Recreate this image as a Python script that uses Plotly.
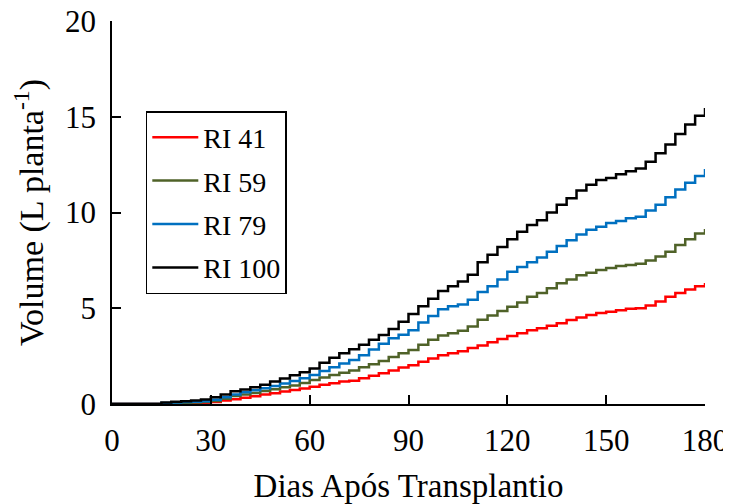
import plotly.graph_objects as go

# Days after transplanting (sampled every 3 days)
dias = list(range(0, 181, 3))

# Cumulative volume (L planta-1)
ri_41 = [0, 0, 0, 0, 0, 0.02, 0.03, 0.04, 0.05, 0.07, 0.10, 0.18, 0.25, 0.32, 0.40, 0.50,
         0.56, 0.65, 0.73, 0.81, 0.90, 1.00, 1.08, 1.17, 1.22, 1.35, 1.48, 1.60, 1.75, 1.90,
         2.02, 2.20, 2.38, 2.54, 2.65, 2.75, 2.92, 3.05, 3.22, 3.40, 3.55, 3.70, 3.85, 3.95,
         4.08, 4.22, 4.38, 4.52, 4.65, 4.75, 4.82, 4.90, 4.98, 5.00, 5.15, 5.35, 5.60, 5.80,
         5.98, 6.15, 6.32]
ri_59 = [0, 0, 0, 0, 0, 0.03, 0.05, 0.06, 0.08, 0.10, 0.16, 0.28, 0.42, 0.50, 0.58, 0.68,
         0.77, 0.87, 0.97, 1.10, 1.25, 1.39, 1.52, 1.63, 1.75, 1.92, 2.08, 2.25, 2.45, 2.65,
         2.82, 3.10, 3.35, 3.58, 3.70, 3.82, 4.05, 4.40, 4.62, 4.85, 5.08, 5.30, 5.60, 5.80,
         6.04, 6.30, 6.50, 6.72, 6.85, 7.00, 7.10, 7.20, 7.26, 7.32, 7.50, 7.70, 7.95, 8.30,
         8.60, 8.90, 9.14]
ri_79 = [0, 0, 0, 0, 0, 0.05, 0.08, 0.10, 0.12, 0.15, 0.22, 0.35, 0.50, 0.62, 0.72, 0.82,
         0.94, 1.07, 1.20, 1.35, 1.51, 1.72, 1.92, 2.12, 2.30, 2.55, 2.85, 3.15, 3.43, 3.62,
         3.85, 4.25, 4.60, 4.95, 5.10, 5.20, 5.45, 5.85, 6.15, 6.50, 6.90, 7.15, 7.40, 7.65,
         7.95, 8.25, 8.55, 8.85, 9.10, 9.26, 9.45, 9.55, 9.70, 9.78, 10.10, 10.40, 10.80, 11.20,
         11.55, 11.90, 12.27]
ri_100 = [0, 0, 0, 0, 0, 0.08, 0.12, 0.15, 0.18, 0.24, 0.35, 0.50, 0.66, 0.76, 0.87, 1.00,
          1.17, 1.33, 1.50, 1.66, 1.86, 2.15, 2.42, 2.65, 2.86, 3.10, 3.35, 3.60, 3.92, 4.30,
          4.70, 5.10, 5.50, 5.90, 6.15, 6.40, 6.75, 7.40, 7.80, 8.20, 8.60, 9.00, 9.35, 9.60,
          10.00, 10.40, 10.75, 11.15, 11.45, 11.70, 11.80, 12.00, 12.15, 12.30, 12.65, 13.10, 13.55, 14.10,
          14.60, 15.05, 15.46]

series = [
    ("RI 41", ri_41, "#FF0000"),
    ("RI 59", ri_59, "#4F6228"),
    ("RI 79", ri_79, "#0070C0"),
    ("RI 100", ri_100, "#000000"),
]

fig = go.Figure()
for nome, vals, cor in series:
    fig.add_trace(go.Scatter(x=dias, y=vals, mode="lines", name=nome, legendgroup=nome,
                             line=dict(color=cor, width=2.5, shape="hv")))

serif = "Liberation Serif, Times New Roman, serif"

# page body adds an 8px margin, so the figure is a bit smaller than the window
fig.update_layout(
    width=723, height=496,
    margin=dict(l=104, r=26, t=13, b=100),
    paper_bgcolor="white", plot_bgcolor="white",
    font=dict(family=serif, size=31, color="black"),
    showlegend=True,
    legend=dict(x=0.057, y=0.765, xanchor="left", yanchor="top",
                bordercolor="black", borderwidth=1.5, bgcolor="white",
                font=dict(family=serif, size=28, color="black"),
                tracegroupgap=4, itemwidth=46),
    xaxis=dict(range=[0, 180], tickvals=[0, 30, 60, 90, 120, 150, 180], automargin=False,
               showline=True, linecolor="black", linewidth=1.5, showgrid=False, zeroline=False,
               ticks="inside", ticklen=9, tickwidth=1.5, tickcolor="black",
               ticklabelstandoff=8, ticklabeloverflow="allow",
               title=dict(text="Dias Após Transplantio", standoff=17,
                          font=dict(family=serif, size=33, color="black"))),
    yaxis=dict(range=[0, 20], tickvals=[0, 5, 10, 15, 20], automargin=False,
               showline=True, linecolor="black", linewidth=1.5, showgrid=False, zeroline=False,
               ticks="inside", ticklen=9, tickwidth=1.5, tickcolor="black",
               ticklabelstandoff=8, ticklabeloverflow="allow",
               title=dict(text="Volume (L planta<sup>-1</sup>)", standoff=16,
                          font=dict(family=serif, size=34, color="black"))),
)

fig.write_html("out.html")
